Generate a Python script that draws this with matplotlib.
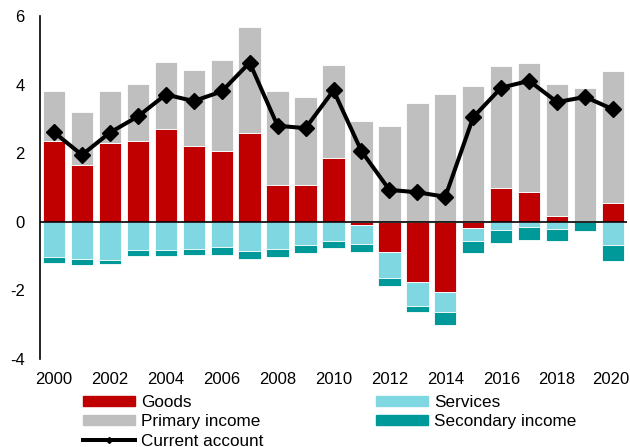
import numpy as np
import matplotlib.pyplot as plt
import matplotlib.transforms as mtransforms
from matplotlib.lines import Line2D
from matplotlib.patches import Patch

plt.rcParams['font.family'] = ['Liberation Sans', 'DejaVu Sans']
plt.rcParams['axes.unicode_minus'] = False

years = list(range(2000, 2021))
goods = [2.35, 1.65, 2.29, 2.35, 2.71, 2.20, 2.05, 2.60, 1.08, 1.06,
         1.86, -0.09, -0.88, -1.76, -2.05, -0.19, 0.99, 0.86, 0.18, 0.03, 0.54]
services = [-1.02, -1.09, -1.11, -0.82, -0.83, -0.80, -0.73, -0.84, -0.78, -0.69,
            -0.56, -0.56, -0.77, -0.69, -0.59, -0.37, -0.23, -0.16, -0.22, -0.01, -0.69]
primary = [1.46, 1.54, 1.51, 1.66, 1.96, 2.23, 2.67, 3.08, 2.73, 2.57,
           2.72, 2.93, 2.79, 3.47, 3.74, 3.95, 3.54, 3.76, 3.85, 3.86, 3.86]
secondary = [-0.19, -0.18, -0.11, -0.17, -0.17, -0.16, -0.23, -0.25, -0.24, -0.23,
             -0.21, -0.22, -0.22, -0.18, -0.37, -0.36, -0.39, -0.37, -0.35, -0.25, -0.46]
current = [2.61, 1.95, 2.60, 3.07, 3.71, 3.52, 3.80, 4.64, 2.80, 2.73,
           3.83, 2.06, 0.93, 0.86, 0.73, 3.05, 3.91, 4.11, 3.49, 3.64, 3.28]

colors = {'Goods': '#C00000', 'Services': '#7FD8E1',
          'Primary income': '#BFBFBF', 'Secondary income': '#009999'}

fig = plt.figure(figsize=(6.3, 4.47), dpi=100)
ax = fig.add_axes([40/630, 1-359/447, 587/630, 343/447])

x = np.arange(len(years))
pos_base = np.zeros(len(years))
neg_base = np.zeros(len(years))
# stacked like excel: positives go up, negatives go down
for name, vals in [('Goods', goods), ('Services', services),
                   ('Primary income', primary), ('Secondary income', secondary)]:
    vals = np.array(vals)
    bottom = np.where(vals >= 0, pos_base, neg_base)
    ax.bar(x, vals, bottom=bottom, width=0.8, color=colors[name],
           edgecolor='white', linewidth=0.6)
    pos_base = pos_base + np.where(vals >= 0, vals, 0)
    neg_base = neg_base + np.where(vals < 0, vals, 0)

ax.plot(x, current, color='black', linewidth=2.9, marker='D', markersize=7.8,
        zorder=5)

ax.axhline(0, color='black', linewidth=1.2, zorder=4)
ax.set_xlim(-0.5, 20.5)
ax.set_ylim(-4, 6)
ax.set_yticks([-4, -2, 0, 2, 4, 6])
ax.set_xticks(x[::2])
ax.set_xticklabels([str(y) for y in years[::2]])
ax.tick_params(axis='both', length=0, labelsize=12)
ax.tick_params(axis='x', pad=9)
ax.tick_params(axis='y', pad=11)
for s in ['top', 'right', 'bottom']:
    ax.spines[s].set_visible(False)
ax.spines['left'].set_linewidth(1.2)

# keep the last year label inside the figure edge
last = ax.get_xticklabels()[-1]
last.set_transform(last.get_transform() + mtransforms.ScaledTranslation(-2/100, 0, fig.dpi_scale_trans))

handles = [Patch(color=colors['Goods']), Patch(color=colors['Primary income']),
           Line2D([], [], color='black', linewidth=2.9, marker='D', markersize=3),
           Patch(color=colors['Services']), Patch(color=colors['Secondary income'])]
labels = ['Goods', 'Primary income', 'Current account', 'Services', 'Secondary income']
fig.legend(handles, labels, ncol=2, loc='upper left', bbox_to_anchor=(83/630, 1-395/447),
           frameon=False, fontsize=12.3, handlelength=3.05, handleheight=0.47,
           handletextpad=0.35, labelspacing=0.25, columnspacing=6.6, borderpad=0,
           borderaxespad=0)

fig.savefig('out.png', dpi=100)
